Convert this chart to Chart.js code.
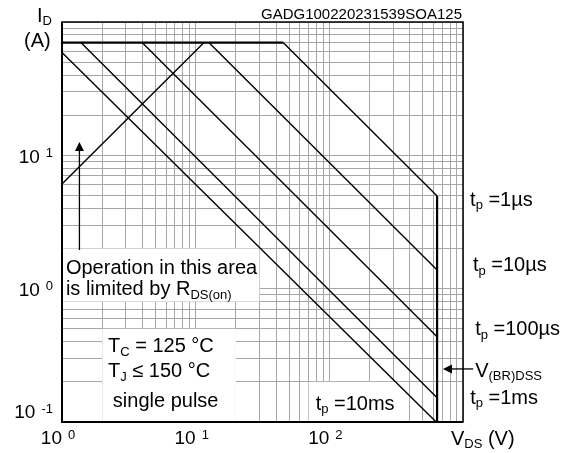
<!DOCTYPE html>
<html>
<head>
<meta charset="utf-8">
<script src="https://cdn.jsdelivr.net/npm/chart.js@4.4.0/dist/chart.umd.min.js"></script>
<style>
  html, body { margin: 0; padding: 0; background: #fff; }
  #wrap { width: 578px; height: 453px; }
</style>
</head>
<body>
<div id="wrap"><canvas id="soaChart" width="578" height="453"></canvas></div>
<script>
// Safe operating area: [V_DS in volts, I_D in amps]
const pulseLimit = [[1, 70], [45.3, 70]];
const tp1us = [[45.3, 70], [640, 4.95]];
const tp10us = [[12.6, 70], [640, 1.38]];
const tp100us = [[3.99, 70], [640, 0.436]];
const tp1ms = [[1.39, 70], [640, 0.152]];
const tp10ms = [[1, 59], [630, 0.1]];
const rdsOnLimit = [[1, 6.1], [11.5, 70]];
const breakdownLimit = [[640, 4.95], [640, 0.1]];

// axes
const xRange = [1, 1000];
const yRange = [0.1, 100];
const xDecades = [1, 10, 100];
const xExponents = ['0', '1', '2'];
const yDecades = [0.1, 1, 10];
const yExponents = ['-1', '0', '1'];

const FONT = '"Liberation Sans", Arial, sans-serif';

// minor grid 1..9 per decade
function gridValues(decades, max) {
  const vals = [];
  decades.forEach(d => {
    for (let k = 1; k <= 9; k++) vals.push(d * k);
  });
  vals.push(max);
  return vals;
}

const toPoints = (arr) => arr.map(([x, y]) => ({ x, y }));

function curve(label, pts, width) {
  return {
    label: label,
    data: toPoints(pts),
    showLine: true,
    borderColor: '#000',
    backgroundColor: '#000',
    borderWidth: width,
    pointRadius: 0,
    tension: 0,
    fill: false
  };
}

// white patches under the notes (data coords)
const whiteBoxes = [
  { x0: 1, x1: 30, y0: 0.8, y1: 2 },
  { x0: 2, x1: 20, y0: 0.1, y1: 0.5 },
  { x0: 70, x1: 390, y0: 0.1, y1: 0.2 }
];

// notes anchored in data coords, left aligned, vertically centred
const notes = [
  { at: [1130, 4.6], parts: [['t'], ['p', 'sub'], [' =1µs']] },
  { at: [1186, 1.48], parts: [['t'], ['p', 'sub'], [' =10µs']] },
  { at: [1234, 0.49], parts: [['t'], ['p', 'sub'], [' =100µs']] },
  { at: [1234, 0.24], parts: [['V'], ['(BR)DSS', 'sub']] },
  { at: [1132, 0.151], parts: [['t'], ['p', 'sub'], [' =1ms']] },
  { at: [79, 0.136], parts: [['t'], ['p', 'sub'], [' =10ms']] },
  { at: [1.07, 1.41], parts: [['Operation in this area']] },
  { at: [1.07, 0.98], parts: [['is limited by R'], ['DS(on)', 'sub']] },
  { at: [2.21, 0.367], parts: [['T'], ['C', 'sub'], [' = 125 °C']] },
  { at: [2.21, 0.238], parts: [['T'], ['J', 'sub'], [' ≤ 150 °C']] },
  { at: [2.4, 0.142], parts: [['single pulse']] }
];

const arrows = [
  { from: [1.35, 1.95], to: [1.35, 12.6] },
  { from: [1192, 0.25], to: [708, 0.25] }
];

function drawRich(ctx, parts, x, y, size) {
  let cx = x;
  parts.forEach(([txt, kind]) => {
    const s = kind ? Math.round(size * 0.65) : size;
    ctx.font = s + 'px ' + FONT;
    let dy = 0;
    if (kind === 'sub') dy = size * 0.28;
    if (kind === 'sup') dy = -size * 0.25;
    ctx.fillText(txt, cx, y + dy);
    cx += ctx.measureText(txt).width;
  });
  return cx - x;
}

const soaDecor = {
  id: 'soaDecor',
  beforeDatasetsDraw(chart) {
    const { ctx, scales } = chart;
    ctx.save();
    ctx.fillStyle = '#fff';
    whiteBoxes.forEach(b => {
      const x0 = scales.x.getPixelForValue(b.x0);
      const x1 = scales.x.getPixelForValue(b.x1);
      const y0 = scales.y.getPixelForValue(b.y1);
      const y1 = scales.y.getPixelForValue(b.y0);
      ctx.fillRect(x0, y0, x1 - x0, y1 - y0);
    });
    ctx.restore();
  },
  afterDraw(chart) {
    const { ctx, scales, chartArea } = chart;
    const sx = scales.x, sy = scales.y;
    ctx.save();

    // frame
    ctx.strokeStyle = '#000';
    ctx.lineWidth = 1.5;
    ctx.strokeRect(chartArea.left, chartArea.top, chartArea.right - chartArea.left, chartArea.bottom - chartArea.top);
    ctx.lineWidth = 2;
    ctx.beginPath();
    ctx.moveTo(chartArea.left, chartArea.top);
    ctx.lineTo(chartArea.left, chartArea.bottom);
    ctx.lineTo(chartArea.right, chartArea.bottom);
    ctx.stroke();

    ctx.fillStyle = '#000';
    ctx.textBaseline = 'middle';
    ctx.textAlign = 'left';

    // notes
    notes.forEach(n => {
      drawRich(ctx, n.parts, sx.getPixelForValue(n.at[0]), sy.getPixelForValue(n.at[1]), 20);
    });

    // arrows
    ctx.lineWidth = 1.3;
    arrows.forEach(a => {
      const x0 = sx.getPixelForValue(a.from[0]), y0 = sy.getPixelForValue(a.from[1]);
      const x1 = sx.getPixelForValue(a.to[0]), y1 = sy.getPixelForValue(a.to[1]);
      const ang = Math.atan2(y1 - y0, x1 - x0);
      const len = 9, half = 4.5;
      const bx = x1 - len * Math.cos(ang), by = y1 - len * Math.sin(ang);
      ctx.beginPath();
      ctx.moveTo(x0, y0);
      ctx.lineTo(bx, by);
      ctx.stroke();
      ctx.beginPath();
      ctx.moveTo(x1, y1);
      ctx.lineTo(bx - half * Math.sin(ang), by + half * Math.cos(ang));
      ctx.lineTo(bx + half * Math.sin(ang), by - half * Math.cos(ang));
      ctx.closePath();
      ctx.fill();
    });

    // x tick labels: "10" right aligned on the grid line, exponent after it
    xDecades.forEach((v, i) => {
      const x = sx.getPixelForValue(v);
      const y = chartArea.bottom + 17;
      ctx.font = '19px ' + FONT;
      const w = ctx.measureText('10').width;
      ctx.fillText('10', x - w, y);
      ctx.font = '13px ' + FONT;
      ctx.fillText(xExponents[i], x + 6, y - 4);
    });

    // y tick labels
    yDecades.forEach((v, i) => {
      let y = sy.getPixelForValue(v) + 2;
      if (i === 0) y = chartArea.bottom - 9;
      ctx.font = '13px ' + FONT;
      const we = ctx.measureText(yExponents[i]).width;
      ctx.font = '19px ' + FONT;
      const wm = ctx.measureText('10').width;
      const right = chartArea.left - 9;
      const ex = right - we;
      ctx.fillText('10', ex - 6 - wm, y);
      ctx.font = '13px ' + FONT;
      ctx.fillText(yExponents[i], ex, y - 4);
    });

    // axis titles
    drawRich(ctx, [['I'], ['D', 'sub']], chartArea.left - 25, chartArea.top - 6, 20);
    drawRich(ctx, [['(A)']], chartArea.left - 38, chartArea.top + 19, 20);
    drawRich(ctx, [['V'], ['DS', 'sub'], [' (V)']], chartArea.right - 12, chartArea.bottom + 17, 20);

    // figure id
    ctx.font = '15px ' + FONT;
    ctx.textAlign = 'right';
    ctx.textBaseline = 'alphabetic';
    ctx.fillText('GADG100220231539SOA125', chartArea.right - 1, chartArea.top - 3);

    ctx.restore();
  }
};

const gridColor = '#a6a6a6';

new Chart(document.getElementById('soaChart'), {
  type: 'scatter',
  data: {
    datasets: [
      curve('I_D pulse limit', pulseLimit, 2.2),
      curve('tp = 1 µs', tp1us, 1.4),
      curve('tp = 10 µs', tp10us, 1.4),
      curve('tp = 100 µs', tp100us, 1.4),
      curve('tp = 1 ms', tp1ms, 1.4),
      curve('tp = 10 ms', tp10ms, 1.4),
      curve('R_DS(on) limit', rdsOnLimit, 1.4),
      curve('V(BR)DSS', breakdownLimit, 2.2)
    ]
  },
  options: {
    responsive: false,
    animation: false,
    devicePixelRatio: 1,
    layout: { padding: { left: 62, right: 115, top: 22, bottom: 31 } },
    plugins: {
      legend: { display: false },
      tooltip: { enabled: false }
    },
    scales: {
      x: {
        type: 'logarithmic',
        min: xRange[0],
        max: xRange[1],
        afterBuildTicks: (s) => { s.ticks = gridValues(xDecades, xRange[1]).map(v => ({ value: v })); },
        grid: { color: gridColor, lineWidth: 1, drawTicks: false },
        border: { display: false },
        ticks: { display: false }
      },
      y: {
        type: 'logarithmic',
        min: yRange[0],
        max: yRange[1],
        afterBuildTicks: (s) => { s.ticks = gridValues(yDecades, yRange[1]).map(v => ({ value: v })); },
        grid: { color: gridColor, lineWidth: 1, drawTicks: false },
        border: { display: false },
        ticks: { display: false }
      }
    }
  },
  plugins: [soaDecor]
});
</script>
</body>
</html>
